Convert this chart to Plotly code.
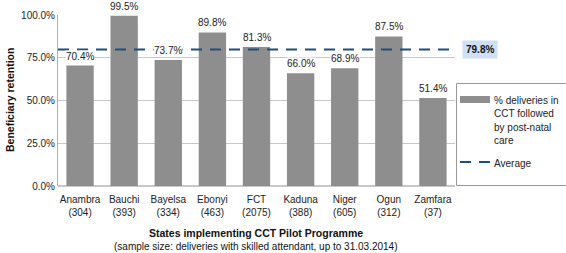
import plotly.graph_objects as go

states = ["Anambra", "Bauchi", "Bayelsa", "Ebonyi", "FCT", "Kaduna", "Niger", "Ogun", "Zamfara"]
sample_sizes = [304, 393, 334, 463, 2075, 388, 605, 312, 37]
retention = [70.4, 99.5, 73.7, 89.8, 81.3, 66.0, 68.9, 87.5, 51.4]
average = 79.8
y_ticks = [0, 25, 50, 75, 100]

FONT = "Liberation Sans, Arial, Helvetica, sans-serif"
cats = [f"{s}<br>({n})" for s, n in zip(states, sample_sizes)]

L, R, T, B = 58, 455, 15, 186
W, H = R - L, B - T


def px_x(p):
    return (p - L) / W


def px_y(p):
    return (B - p) / H


fig = go.Figure()
fig.add_trace(go.Bar(x=cats, y=retention, marker=dict(color="#8e8e8e", line=dict(width=0)),
                     showlegend=False, hoverinfo="skip"))

annotations = []
for c, v in zip(cats, retention):
    annotations.append(dict(x=c, y=v, text=f"{v:.1f}%", showarrow=False, yanchor="bottom",
                            yshift=3, bgcolor="white", borderpad=0,
                            font=dict(family=FONT, size=10, color="#222")))
# average label
annotations.append(dict(xref="paper", x=px_x(462), y=average, yref="y", text=f"<b>{average:.1f}%</b>",
                        showarrow=False, xanchor="left", bgcolor="#cfe0f5", borderpad=3,
                        font=dict(family=FONT, size=10, color="#111")))
# legend texts
leg_lines = ["% deliveries in", "CCT followed", "by post-natal", "care"]
for i, t in enumerate(leg_lines):
    annotations.append(dict(xref="paper", yref="paper", x=px_x(492), y=px_y(100 + i * 13.5),
                            text=t, showarrow=False, xanchor="left", yanchor="middle",
                            font=dict(family=FONT, size=10, color="#222")))
annotations.append(dict(xref="paper", yref="paper", x=px_x(492), y=px_y(163),
                        text="Average", showarrow=False, xanchor="left", yanchor="middle",
                        font=dict(family=FONT, size=10, color="#222")))
# axis titles
annotations.append(dict(xref="paper", yref="paper", x=px_x(256), y=px_y(233), xanchor="center",
                        text="<b>States implementing CCT Pilot Programme</b>", showarrow=False,
                        yanchor="middle", font=dict(family=FONT, size=10.5, color="#111")))
annotations.append(dict(xref="paper", yref="paper", x=px_x(256), y=px_y(246), xanchor="center",
                        text="(sample size: deliveries with skilled attendant, up to 31.03.2014)",
                        showarrow=False, yanchor="middle", font=dict(family=FONT, size=10, color="#111")))
annotations.append(dict(xref="paper", yref="paper", x=px_x(10), y=px_y(100), textangle=-90,
                        xanchor="center", yanchor="middle",
                        text="<b>Beneficiary retention</b>", showarrow=False,
                        font=dict(family=FONT, size=10.5, color="#111")))

shapes = [
    # average line across the plot, positioned through the y scale
    dict(type="line", xref="paper", yref="y", x0=0, x1=1, y0=average, y1=average,
         line=dict(color="#1f4e79", width=2, dash="11px,8px"), layer="above"),
    dict(type="rect", xref="paper", yref="paper", x0=px_x(456.5), x1=px_x(570), y0=px_y(83.5), y1=px_y(185.5),
         line=dict(color="#999", width=1), fillcolor="white", layer="above"),
    dict(type="rect", xref="paper", yref="paper", x0=px_x(460), x1=px_x(490), y0=px_y(96), y1=px_y(103),
         line=dict(width=0), fillcolor="#8e8e8e", layer="above"),
    dict(type="line", xref="paper", yref="paper", x0=px_x(460), x1=px_x(490), y0=px_y(162), y1=px_y(162),
         line=dict(color="#1f4e79", width=2, dash="11px,8px"), layer="above"),
]

fig.update_layout(
    width=566, height=253,
    margin=dict(l=L, r=566 - R, t=T, b=253 - B, autoexpand=False),
    paper_bgcolor="white", plot_bgcolor="white",
    bargap=0.38,
    font=dict(family=FONT, size=10, color="#222"),
    annotations=annotations, shapes=shapes,
    xaxis=dict(showgrid=False, showline=False, ticks="", tickfont=dict(size=10, color="#222"),
               range=[-0.5, len(cats) - 0.5], automargin=False, ticklabelstandoff=6),
    yaxis=dict(range=[0, 100], tickvals=y_ticks, ticktext=[f"{t:.1f}%" for t in y_ticks],
               showgrid=True, gridcolor="#c8c8c8", gridwidth=1, zeroline=True, zerolinecolor="#c8c8c8",
               showline=True, linecolor="#b0b0b0", ticks="", tickfont=dict(size=10, color="#222"),
               automargin=False),
)

fig.write_html("out.html", config={"displayModeBar": False, "staticPlot": True},
               post_script="document.body.style.margin='0';document.body.style.overflow='hidden';")
